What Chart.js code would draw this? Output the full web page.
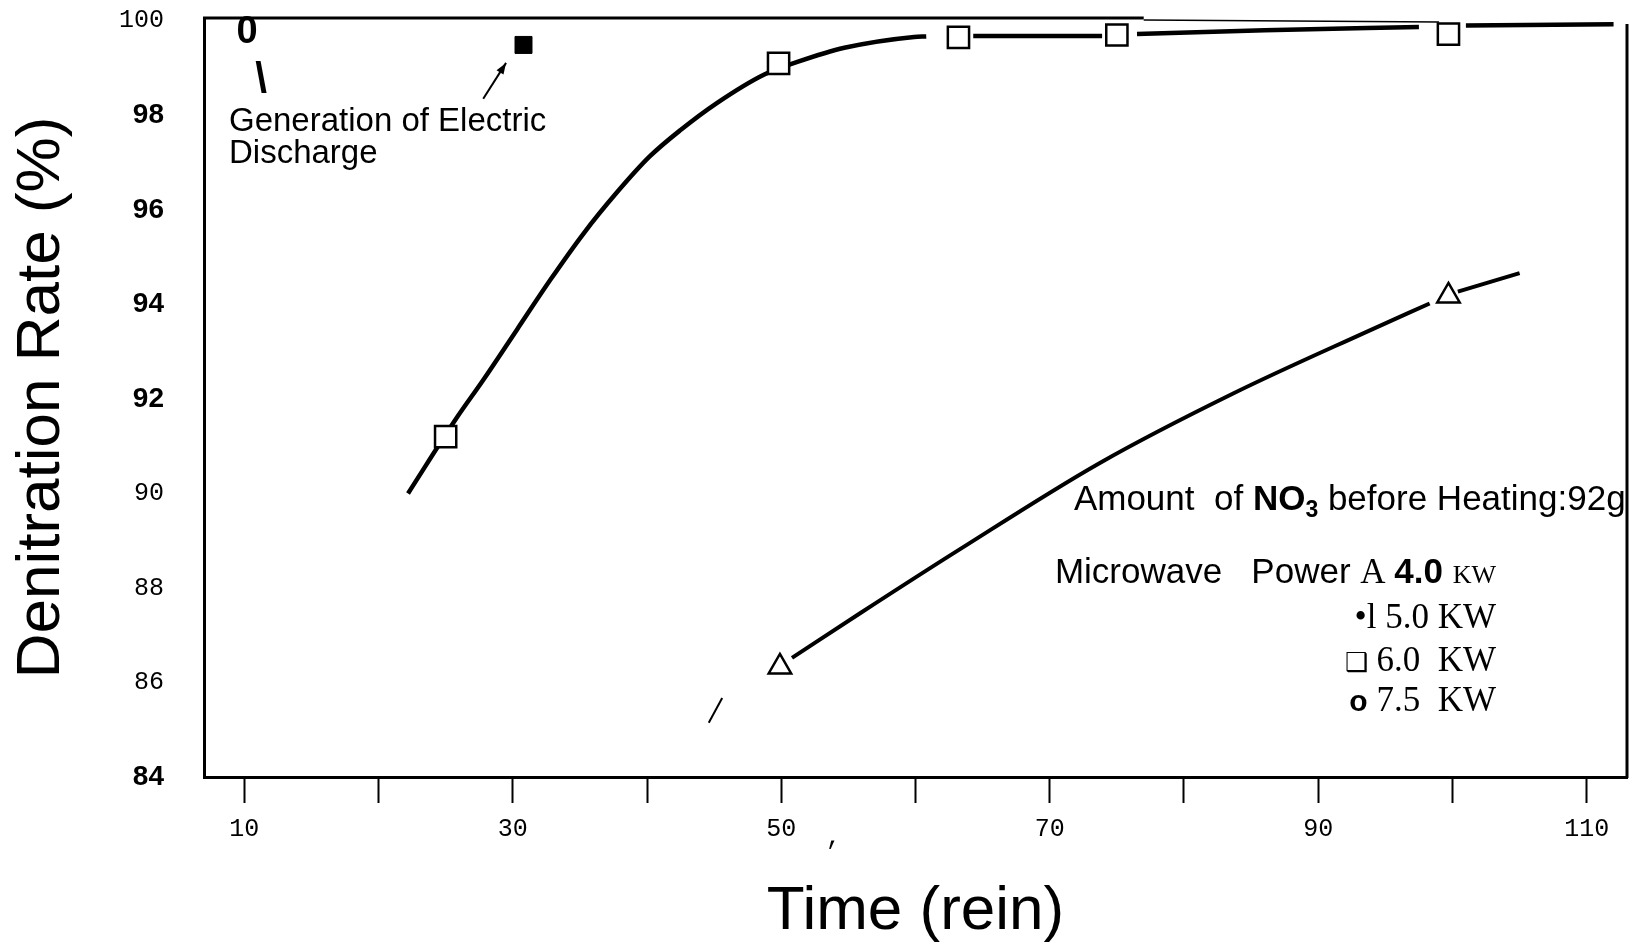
<!DOCTYPE html>
<html lang="en">
<head>
<meta charset="UTF-8">
<title>Denitration Rate vs Time</title>
<script src="https://cdn.jsdelivr.net/npm/chart.js"></script>
<style>
    html, body { margin: 0; padding: 0; background: #fff; }
    canvas { display: block; }
</style>
</head>
<body>
<canvas id="denitChart" width="1635" height="947"></canvas>
<script>
    // axis ticks
    const xTickValues = [10, 20, 30, 40, 50, 60, 70, 80, 90, 100, 110];
    const xLabels = [10, 30, 50, 70, 90, 110];
    const yTickValues = [84, 86, 88, 90, 92, 94, 96, 98, 100];
    const yMonoTicks = [100, 90, 88, 86]; // these were typed in a different font on the original

    // 6.0 KW - measured points (open squares)
    const sq6X = [25, 49.8, 63.2, 75.0, 99.7];
    const sq6Y = [91.2, 99.1, 99.65, 99.7, 99.72];
    // 6.0 KW - pen curve (null = gap in the line)
    const sq6CurveX = [22.2, 25.8, 27.8, 30.3, 32.8, 35.3, 37.7, 40.2, 42.5, 45.2, 48.7, 51.2, 54.7, 59.9, 60.8, 62.0, 64.3, 73.9, 75.5, 76.5, 86.0, 97.5, 99.5, 101.0, 112.0];
    const sq6CurveY = [90.0, 91.59, 92.4, 93.46, 94.52, 95.51, 96.35, 97.13, 97.69, 98.26, 98.86, 99.13, 99.43, 99.66, 99.67, null, 99.68, 99.68, null, 99.72, 99.8, 99.87, null, 99.9, 99.93];

    // electric discharge point (filled square)
    const dischargeX = [30.8];
    const dischargeY = [99.49];

    // 4.0 KW - measured points (triangles)
    const tri4X = [49.9, 99.7];
    const tri4Y = [86.33, 94.18];
    // 4.0 KW - pen curve
    const tri4CurveX = [50.8, 55.9, 63.2, 73.7, 83.7, 93.6, 98.3, 99.5, 100.4, 105.0];
    const tri4CurveY = [86.52, 87.47, 88.8, 90.64, 92.12, 93.42, 94.02, null, 94.27, 94.66];

    // short stray stroke below the triangle curve
    const strayX = [44.6, 45.6];
    const strayY = [85.15, 85.67];

    const toPoints = (xs, ys) => xs.map((x, i) => ({ x: x, y: ys[i] }));

    // frame, notes and the hand-written key
    const notesPlugin = {
        id: 'notes',
        afterDraw(chart) {
            const c = chart.ctx;
            const a = chart.chartArea;
            const xs = chart.scales.x;
            const ys = chart.scales.y;
            const px = v => xs.getPixelForValue(v);
            const py = v => ys.getPixelForValue(v);

            c.save();
            c.strokeStyle = '#000';
            c.fillStyle = '#000';
            c.lineCap = 'butt';

            // top border (heavy part then thinner)
            c.lineWidth = 3;
            c.beginPath();
            c.moveTo(a.left - 1, a.top);
            c.lineTo(px(77), a.top);
            c.stroke();
            c.lineWidth = 1.5;
            c.beginPath();
            c.moveTo(px(77), a.top + 2);
            c.lineTo(px(99), a.top + 4);
            c.stroke();
            // right border
            c.lineWidth = 3;
            c.beginPath();
            c.moveTo(a.right, a.top + 6);
            c.lineTo(a.right, a.bottom + 1);
            c.stroke();

            // "0" and backslash mark
            c.textAlign = 'center';
            c.textBaseline = 'middle';
            c.font = 'bold 38px "Liberation Sans"';
            c.fillText('0', px(10.2), py(99.75));
            c.font = 'bold 42px "Liberation Sans"';
            c.fillText('\\', px(11.25), py(98.73));

            // discharge note
            c.textAlign = 'left';
            c.font = '33px "Liberation Sans"';
            c.fillText('Generation of Electric', px(8.86), py(97.86));
            c.fillText('Discharge', px(8.86), py(97.19));

            // arrow to discharge point
            const x1 = px(27.8), y1 = py(98.35), x2 = px(29.5), y2 = py(99.11);
            c.lineWidth = 2;
            c.beginPath();
            c.moveTo(x1, y1);
            c.lineTo(x2, y2);
            c.stroke();
            const ang = Math.atan2(y2 - y1, x2 - x1);
            c.beginPath();
            c.moveTo(x2, y2);
            c.lineTo(x2 - 12 * Math.cos(ang - 0.35), y2 - 12 * Math.sin(ang - 0.35));
            c.lineTo(x2 - 12 * Math.cos(ang + 0.35), y2 - 12 * Math.sin(ang + 0.35));
            c.closePath();
            c.fill();

            // stray comma after "50"
            c.textAlign = 'center';
            c.font = '25px "Liberation Mono"';
            c.fillText(',', px(53.9), a.bottom + 60);

            // key text
            const runs = (list, x, y, align) => {
                c.textBaseline = 'alphabetic';
                c.textAlign = 'left';
                let w = 0;
                list.forEach(r => { c.font = r.font; w += c.measureText(r.text).width; });
                let cx = align === 'right' ? x - w : x;
                list.forEach(r => {
                    c.font = r.font;
                    c.fillText(r.text, cx, y + (r.dy || 0));
                    cx += c.measureText(r.text).width;
                });
            };
            const sans = '35px "Liberation Sans"';
            const sansB = 'bold 35px "Liberation Sans"';
            const serif = '35px "Liberation Serif"';

            runs([
                { text: 'Amount  of ', font: sans },
                { text: 'NO', font: sansB },
                { text: '3', font: 'bold 23px "Liberation Sans"', dy: 7 },
                { text: ' before Heating:92g', font: sans }
            ], px(71.8), py(89.65));

            const keyRight = px(103.24);
            runs([
                { text: 'Microwave   ', font: sans },
                { text: 'Power ', font: sans },
                { text: 'A ', font: serif },
                { text: '4.0 ', font: sansB },
                { text: 'KW', font: '26px "Liberation Serif"' }
            ], keyRight, py(88.1), 'right');
            runs([{ text: '\u2022l 5.0 KW', font: serif }], keyRight, py(87.15), 'right');
            runs([
                { text: '\u2751 ', font: '26px "DejaVu Sans"' },
                { text: '6.0  KW', font: serif }
            ], keyRight, py(86.24), 'right');
            runs([
                { text: 'o', font: 'bold 30px "Liberation Sans"' },
                { text: ' 7.5  KW', font: serif }
            ], keyRight, py(85.39), 'right');

            c.restore();
        }
    };

    const ctx = document.getElementById('denitChart').getContext('2d');
    const denitChart = new Chart(ctx, {
        type: 'scatter',
        data: {
            datasets: [
                {
                    label: '6.0 KW',
                    data: toPoints(sq6X, sq6Y),
                    pointStyle: 'rect',
                    pointRadius: 15,
                    pointBorderWidth: 2.5,
                    pointBackgroundColor: '#fff',
                    pointBorderColor: '#000',
                    order: 0
                },
                {
                    label: '4.0 KW',
                    data: toPoints(tri4X, tri4Y),
                    pointStyle: 'triangle',
                    pointRadius: 13,
                    pointBorderWidth: 2.5,
                    pointBackgroundColor: '#fff',
                    pointBorderColor: '#000',
                    order: 0
                },
                {
                    label: 'Discharge',
                    data: toPoints(dischargeX, dischargeY),
                    pointStyle: 'rect',
                    pointRadius: 12,
                    pointBorderWidth: 1,
                    pointBackgroundColor: '#000',
                    pointBorderColor: '#000',
                    order: 0
                },
                {
                    label: '6.0 KW curve',
                    data: toPoints(sq6CurveX, sq6CurveY),
                    showLine: true,
                    spanGaps: false,
                    borderColor: '#000',
                    borderWidth: 4.5,
                    cubicInterpolationMode: 'monotone',
                    pointRadius: 0,
                    order: 1
                },
                {
                    label: '4.0 KW curve',
                    data: toPoints(tri4CurveX, tri4CurveY),
                    showLine: true,
                    spanGaps: false,
                    borderColor: '#000',
                    borderWidth: 4,
                    cubicInterpolationMode: 'monotone',
                    pointRadius: 0,
                    order: 1
                },
                {
                    label: 'stroke',
                    data: toPoints(strayX, strayY),
                    showLine: true,
                    borderColor: '#000',
                    borderWidth: 2,
                    pointRadius: 0,
                    order: 1
                }
            ]
        },
        options: {
            responsive: false,
            animation: false,
            layout: { autoPadding: false, padding: { top: 18, right: 8, left: 0, bottom: 0 } },
            plugins: {
                legend: { display: false },
                tooltip: { enabled: false }
            },
            scales: {
                x: {
                    type: 'linear',
                    min: 7,
                    max: 113,
                    afterBuildTicks: s => { s.ticks = xTickValues.map(v => ({ value: v })); },
                    afterFit: s => { s.height = 170; },
                    border: { display: true, color: '#000', width: 3 },
                    grid: { drawOnChartArea: false, drawTicks: true, tickLength: 26, tickWidth: 2, tickColor: '#000' },
                    ticks: {
                        color: '#000',
                        padding: 11,
                        autoSkip: false,
                        maxRotation: 0,
                        font: { family: 'Liberation Mono', size: 25 },
                        callback: v => xLabels.includes(v) ? String(v) : ''
                    },
                    title: {
                        display: true,
                        text: 'Time (rein)',
                        color: '#000',
                        font: { family: 'Liberation Sans', size: 62, lineHeight: 1 },
                        padding: { top: 0, bottom: 4 }
                    }
                },
                y: {
                    type: 'linear',
                    min: 84,
                    max: 100.06,
                    afterBuildTicks: s => { s.ticks = yTickValues.map(v => ({ value: v })); },
                    afterFit: s => { s.width = 204; },
                    border: { display: true, color: '#000', width: 3 },
                    // invisible tick marks keep the labels away from the axis
                    grid: { drawOnChartArea: false, drawTicks: true, tickLength: 37, tickColor: 'rgba(0,0,0,0)' },
                    ticks: {
                        color: '#000',
                        padding: 3,
                        font: c => yMonoTicks.includes(c.tick && c.tick.value)
                            ? { family: 'Liberation Mono', size: 25 }
                            : { family: 'Liberation Sans', size: 28, weight: 'bold' }
                    },
                    title: {
                        display: true,
                        text: 'Denitration Rate (%)',
                        color: '#000',
                        font: { family: 'Liberation Sans', size: 62, lineHeight: 1 },
                        padding: { top: 11, bottom: 0 }
                    }
                }
            }
        },
        plugins: [notesPlugin]
    });
</script>
</body>
</html>
